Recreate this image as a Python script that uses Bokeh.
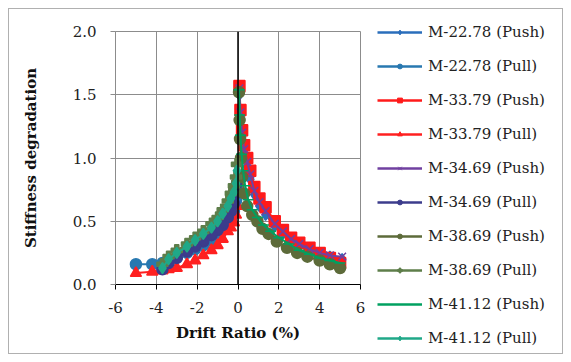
from bokeh.plotting import figure
from bokeh.layouts import row
from bokeh.models import Legend, LegendItem, Span, FixedTicker, ColumnDataSource, CustomJSTickFormatter
from bokeh.embed import file_html
from bokeh.resources import INLINE

# ---------------- data ----------------
x_2278_push = [0.07, 0.12, 0.2, 0.3, 0.45, 0.6, 0.8, 1.05, 1.35, 1.8, 2.2, 2.6, 3.0, 3.5, 4.0, 4.5, 5.1]
y_2278_push = [1.50, 1.33, 1.17, 1.04, 0.93, 0.83, 0.71, 0.62, 0.55, 0.46, 0.40, 0.35, 0.31, 0.27, 0.24, 0.22, 0.20]
x_2278_pull = [-0.05, -0.1, -0.2, -0.35, -0.5, -0.75, -1.0, -1.3, -1.7, -2.1, -2.5, -3.0, -3.4, -3.7, -4.2, -5.0]
y_2278_pull = [0.75, 0.66, 0.58, 0.52, 0.48, 0.43, 0.39, 0.35, 0.31, 0.28, 0.25, 0.21, 0.19, 0.17, 0.16, 0.16]

x_3379_push = [0.07, 0.12, 0.2, 0.3, 0.45, 0.6, 0.8, 1.05, 1.35, 1.8, 2.2, 2.6, 3.0, 3.5, 4.0, 4.5, 5.0]
y_3379_push = [1.57, 1.38, 1.22, 1.10, 1.00, 0.90, 0.77, 0.68, 0.61, 0.50, 0.43, 0.37, 0.33, 0.29, 0.25, 0.21, 0.17]
x_3379_pull = [-0.05, -0.1, -0.2, -0.35, -0.5, -0.75, -1.0, -1.3, -1.7, -2.1, -2.5, -3.0, -3.4, -3.7, -4.2, -5.0]
y_3379_pull = [0.62, 0.55, 0.49, 0.45, 0.42, 0.36, 0.31, 0.27, 0.23, 0.19, 0.16, 0.13, 0.12, 0.11, 0.10, 0.09]

x_3469_push = [0.07, 0.12, 0.2, 0.3, 0.45, 0.6, 0.8, 1.05, 1.35, 1.8, 2.2, 2.6, 3.0, 3.5, 4.0, 4.5, 5.1]
y_3469_push = [1.55, 1.36, 1.20, 1.07, 0.97, 0.87, 0.74, 0.65, 0.58, 0.48, 0.42, 0.36, 0.32, 0.28, 0.25, 0.23, 0.22]
x_3469_pull = [-0.05, -0.1, -0.2, -0.35, -0.5, -0.75, -1.0, -1.3, -1.7, -2.1, -2.5, -3.0, -3.4, -3.7]
y_3469_pull = [0.80, 0.72, 0.64, 0.58, 0.53, 0.47, 0.43, 0.39, 0.34, 0.30, 0.26, 0.21, 0.17, 0.12]

x_3869_push = [0.05, 0.08, 0.1, 0.15, 0.2, 0.3, 0.45, 0.7, 0.95, 1.2, 1.5, 1.9, 2.4, 2.9, 3.4, 4.0, 4.5, 5.0]
y_3869_push = [1.52, 1.30, 1.15, 1.00, 0.85, 0.72, 0.62, 0.55, 0.50, 0.44, 0.40, 0.34, 0.29, 0.25, 0.22, 0.19, 0.16, 0.13]
x_3869_pull = [-0.05, -0.1, -0.2, -0.35, -0.5, -0.75, -1.0, -1.3, -1.7, -2.1, -2.5, -3.0, -3.4, -3.7]
y_3869_pull = [0.95, 0.85, 0.78, 0.72, 0.66, 0.59, 0.53, 0.48, 0.42, 0.37, 0.32, 0.27, 0.22, 0.16]

x_4112_push = [0.05, 0.08, 0.12, 0.18, 0.25, 0.35, 0.5, 0.7, 0.95, 1.25, 1.6, 2.0, 2.5, 3.0, 3.5, 4.0, 4.5, 5.0]
y_4112_push = [1.54, 1.34, 1.18, 1.03, 0.90, 0.78, 0.67, 0.59, 0.53, 0.47, 0.42, 0.37, 0.32, 0.27, 0.24, 0.21, 0.19, 0.17]
x_4112_pull = [-0.05, -0.1, -0.2, -0.35, -0.5, -0.75, -1.0, -1.3, -1.7, -2.1, -2.5, -3.0, -3.4, -3.7]
y_4112_pull = [0.90, 0.80, 0.73, 0.68, 0.62, 0.56, 0.50, 0.45, 0.40, 0.35, 0.30, 0.25, 0.20, 0.13]

series_names = ["M-22.78 (Push)", "M-22.78 (Pull)", "M-33.79 (Push)", "M-33.79 (Pull)",
                "M-34.69 (Push)", "M-34.69 (Pull)", "M-38.69 (Push)", "M-38.69 (Pull)",
                "M-41.12 (Push)", "M-41.12 (Pull)"]
series_x = [x_2278_push, x_2278_pull, x_3379_push, x_3379_pull, x_3469_push, x_3469_pull,
            x_3869_push, x_3869_pull, x_4112_push, x_4112_pull]
series_y = [y_2278_push, y_2278_pull, y_3379_push, y_3379_pull, y_3469_push, y_3469_pull,
            y_3869_push, y_3869_pull, y_4112_push, y_4112_pull]

x_ticks = [-6, -4, -2, 0, 2, 4, 6]
y_ticks = [0.0, 0.5, 1.0, 1.5, 2.0]

# ---------------- styles ----------------
colors = ["#2a6ebb", "#2878b0", "#ff1a1a", "#ff2020", "#7040a0", "#3c3c8c",
          "#5d6b3a", "#5e7e4a", "#00a060", "#20a888"]
markers = ["diamond", "circle", "square", "triangle", "x", "circle",
           "circle", "plus", "dash", "diamond"]
SERIF = "DejaVu Serif"
NAN = float("nan")

p = figure(width=368, height=344, x_range=(-6, 6), y_range=(0, 2),
           output_backend="svg", toolbar_location=None,
           min_border_left=106, min_border_right=17,
           min_border_top=22, min_border_bottom=69)
p.frame_align = False
p.background_fill_color = "white"
p.border_fill_color = "white"
p.outline_line_color = "#8c8c8c"

p.xaxis.ticker = FixedTicker(ticks=x_ticks)
p.yaxis.ticker = FixedTicker(ticks=y_ticks)
p.xaxis.formatter = CustomJSTickFormatter(code="return tick.toFixed(0);")
p.yaxis.formatter = CustomJSTickFormatter(code="return tick.toFixed(1);")

for ax in (p.xaxis, p.yaxis):
    ax.axis_line_color = "black"
    ax.major_tick_line_color = "black"
    ax.minor_tick_line_color = None
    ax.major_tick_out = 5
    ax.major_tick_in = 0
    ax.major_label_text_font = SERIF
    ax.major_label_text_font_size = "15px"
    ax.major_label_text_color = "#222222"
    ax.axis_label_text_font = SERIF
    ax.axis_label_text_font_size = "15px"
    ax.axis_label_text_font_style = "bold"
    ax.axis_label_text_color = "#111111"

p.yaxis.axis_line_color = "#8c8c8c"
p.yaxis.major_tick_line_color = "#8c8c8c"
p.xaxis.major_label_standoff = 12
p.yaxis.major_label_standoff = 14
p.xaxis.axis_label = "Drift Ratio (%)"
p.yaxis.axis_label = "Stiffness degradation"
p.xaxis.axis_label_standoff = 8
p.yaxis.axis_label_standoff = 30

p.xgrid.ticker = FixedTicker(ticks=x_ticks)
p.ygrid.ticker = FixedTicker(ticks=y_ticks)
p.grid.grid_line_color = "#8c8c8c"
p.grid.grid_line_width = 1

p.add_layout(Span(location=0, dimension="height", line_color="black", line_width=1.5))

# legend host figure
q = figure(width=185, height=344, x_range=(0, 1), y_range=(0, 1),
           output_backend="svg", toolbar_location=None,
           min_border=0, min_border_left=0, min_border_right=0,
           min_border_top=0, min_border_bottom=0)
q.frame_align = False
q.axis.visible = False
q.grid.visible = False
q.outline_line_color = None
q.background_fill_color = "white"
q.border_fill_color = "white"

items = []
for name, xs, ys, c, m in zip(series_names, series_x, series_y, colors, markers):
    src = ColumnDataSource(dict(x=xs, y=ys))
    p.line("x", "y", source=src, line_color=c, line_width=2)
    p.scatter("x", "y", source=src, marker=m, size=11, fill_color=c, line_color=c, line_width=1.5)
    dummy = ColumnDataSource(dict(x=[NAN], y=[NAN]))
    lr = q.line("x", "y", source=dummy, line_color=c, line_width=2.5)
    sr = q.scatter("x", "y", source=dummy, marker=m, size=5, fill_color=c, line_color=c)
    items.append(LegendItem(label=name, renderers=[lr, sr]))

legend = Legend(items=items, location=(0, 5))
legend.padding = 0
legend.margin = 0
legend.border_line_color = None
legend.background_fill_alpha = 0
legend.glyph_width = 45
legend.glyph_height = 12
legend.label_height = 20
legend.spacing = 14
legend.label_standoff = 6
legend.label_text_font = SERIF
legend.label_text_font_size = "15px"
legend.label_text_color = "#222222"
q.add_layout(legend, "center")

layout = row(p, q)
layout.styles = {"border": "1px solid #b0b0b0", "margin-left": "8px", "margin-top": "8px"}

open("out.html", "w").write(file_html(layout, INLINE))
